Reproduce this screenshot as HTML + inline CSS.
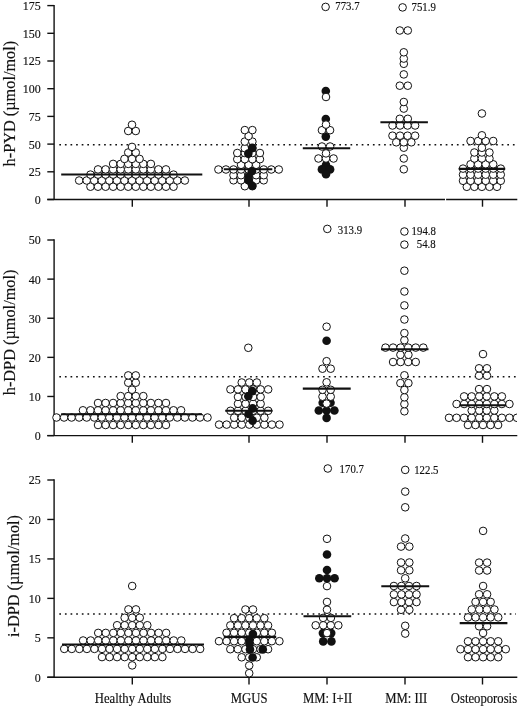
<!DOCTYPE html>
<html><head><meta charset="utf-8"><style>
html,body{margin:0;padding:0;background:#fff;}
body{width:520px;height:707px;overflow:hidden;}
svg{display:block;will-change:transform;}
text{font-family:"Liberation Serif",serif;fill:#111;stroke:#111;stroke-width:0.15px;}
.tk{font-size:12.0px;}
.ti{font-size:16.3px;}
.xl{font-size:12.7px;}
.lb{font-size:10.8px;}
</style></head><body>
<svg width="520" height="707" viewBox="0 0 520 707">
<rect width="520" height="707" fill="#fff"/>
<defs><clipPath id="cp"><rect x="0" y="0" width="517" height="707"/></clipPath></defs>
<line x1="54.1" y1="4.90" x2="54.1" y2="199.50" stroke="#111" stroke-width="1.4"/>
<line x1="47.3" y1="199.5" x2="517.3" y2="199.5" stroke="#111" stroke-width="1.4"/>
<line x1="47.3" y1="199.50" x2="54.1" y2="199.50" stroke="#111" stroke-width="1.4"/>
<text transform="translate(40.8,203.90) scale(1,1.1)" class="tk" text-anchor="end">0</text>
<line x1="47.3" y1="171.80" x2="54.1" y2="171.80" stroke="#111" stroke-width="1.4"/>
<text transform="translate(40.8,176.20) scale(1,1.1)" class="tk" text-anchor="end">25</text>
<line x1="47.3" y1="144.10" x2="54.1" y2="144.10" stroke="#111" stroke-width="1.4"/>
<text transform="translate(40.8,148.50) scale(1,1.1)" class="tk" text-anchor="end">50</text>
<line x1="47.3" y1="116.40" x2="54.1" y2="116.40" stroke="#111" stroke-width="1.4"/>
<text transform="translate(40.8,120.80) scale(1,1.1)" class="tk" text-anchor="end">75</text>
<line x1="47.3" y1="88.70" x2="54.1" y2="88.70" stroke="#111" stroke-width="1.4"/>
<text transform="translate(40.8,93.10) scale(1,1.1)" class="tk" text-anchor="end">100</text>
<line x1="47.3" y1="61.00" x2="54.1" y2="61.00" stroke="#111" stroke-width="1.4"/>
<text transform="translate(40.8,65.40) scale(1,1.1)" class="tk" text-anchor="end">125</text>
<line x1="47.3" y1="33.30" x2="54.1" y2="33.30" stroke="#111" stroke-width="1.4"/>
<text transform="translate(40.8,37.70) scale(1,1.1)" class="tk" text-anchor="end">150</text>
<line x1="47.3" y1="5.60" x2="54.1" y2="5.60" stroke="#111" stroke-width="1.4"/>
<text transform="translate(40.8,10.00) scale(1,1.1)" class="tk" text-anchor="end">175</text>
<line x1="132.3" y1="199.5" x2="132.3" y2="206.70" stroke="#111" stroke-width="1.4"/>
<line x1="249.0" y1="199.5" x2="249.0" y2="206.70" stroke="#111" stroke-width="1.4"/>
<line x1="327.0" y1="199.5" x2="327.0" y2="206.70" stroke="#111" stroke-width="1.4"/>
<line x1="405.0" y1="199.5" x2="405.0" y2="206.70" stroke="#111" stroke-width="1.4"/>
<line x1="482.5" y1="199.5" x2="482.5" y2="206.70" stroke="#111" stroke-width="1.4"/>
<line x1="59.3" y1="144.7" x2="516" y2="144.7" stroke="#111" stroke-width="1.5" stroke-dasharray="1.7 3.900"/>
<text class="ti" transform="translate(15.2,103.6) rotate(-90)" text-anchor="middle">h-PYD (µmol/mol)</text>
<line x1="54.1" y1="239.30" x2="54.1" y2="435.60" stroke="#111" stroke-width="1.4"/>
<line x1="47.3" y1="435.6" x2="517.3" y2="435.6" stroke="#111" stroke-width="1.4"/>
<line x1="47.3" y1="435.60" x2="54.1" y2="435.60" stroke="#111" stroke-width="1.4"/>
<text transform="translate(40.8,440.00) scale(1,1.1)" class="tk" text-anchor="end">0</text>
<line x1="47.3" y1="396.48" x2="54.1" y2="396.48" stroke="#111" stroke-width="1.4"/>
<text transform="translate(40.8,400.88) scale(1,1.1)" class="tk" text-anchor="end">10</text>
<line x1="47.3" y1="357.36" x2="54.1" y2="357.36" stroke="#111" stroke-width="1.4"/>
<text transform="translate(40.8,361.76) scale(1,1.1)" class="tk" text-anchor="end">20</text>
<line x1="47.3" y1="318.24" x2="54.1" y2="318.24" stroke="#111" stroke-width="1.4"/>
<text transform="translate(40.8,322.64) scale(1,1.1)" class="tk" text-anchor="end">30</text>
<line x1="47.3" y1="279.12" x2="54.1" y2="279.12" stroke="#111" stroke-width="1.4"/>
<text transform="translate(40.8,283.52) scale(1,1.1)" class="tk" text-anchor="end">40</text>
<line x1="47.3" y1="240.00" x2="54.1" y2="240.00" stroke="#111" stroke-width="1.4"/>
<text transform="translate(40.8,244.40) scale(1,1.1)" class="tk" text-anchor="end">50</text>
<line x1="132.3" y1="435.6" x2="132.3" y2="442.80" stroke="#111" stroke-width="1.4"/>
<line x1="249.0" y1="435.6" x2="249.0" y2="442.80" stroke="#111" stroke-width="1.4"/>
<line x1="327.0" y1="435.6" x2="327.0" y2="442.80" stroke="#111" stroke-width="1.4"/>
<line x1="405.0" y1="435.6" x2="405.0" y2="442.80" stroke="#111" stroke-width="1.4"/>
<line x1="482.5" y1="435.6" x2="482.5" y2="442.80" stroke="#111" stroke-width="1.4"/>
<line x1="59.3" y1="376.8" x2="516" y2="376.8" stroke="#111" stroke-width="1.5" stroke-dasharray="1.7 3.913"/>
<text class="ti" transform="translate(15.2,332.4) rotate(-90)" text-anchor="middle">h-DPD (µmol/mol)</text>
<line x1="54.1" y1="479.30" x2="54.1" y2="677.30" stroke="#111" stroke-width="1.4"/>
<line x1="47.3" y1="677.3" x2="517.3" y2="677.3" stroke="#111" stroke-width="1.4"/>
<line x1="47.3" y1="677.30" x2="54.1" y2="677.30" stroke="#111" stroke-width="1.4"/>
<text transform="translate(40.8,681.70) scale(1,1.1)" class="tk" text-anchor="end">0</text>
<line x1="47.3" y1="637.84" x2="54.1" y2="637.84" stroke="#111" stroke-width="1.4"/>
<text transform="translate(40.8,642.24) scale(1,1.1)" class="tk" text-anchor="end">5</text>
<line x1="47.3" y1="598.38" x2="54.1" y2="598.38" stroke="#111" stroke-width="1.4"/>
<text transform="translate(40.8,602.78) scale(1,1.1)" class="tk" text-anchor="end">10</text>
<line x1="47.3" y1="558.92" x2="54.1" y2="558.92" stroke="#111" stroke-width="1.4"/>
<text transform="translate(40.8,563.32) scale(1,1.1)" class="tk" text-anchor="end">15</text>
<line x1="47.3" y1="519.46" x2="54.1" y2="519.46" stroke="#111" stroke-width="1.4"/>
<text transform="translate(40.8,523.86) scale(1,1.1)" class="tk" text-anchor="end">20</text>
<line x1="47.3" y1="480.00" x2="54.1" y2="480.00" stroke="#111" stroke-width="1.4"/>
<text transform="translate(40.8,484.40) scale(1,1.1)" class="tk" text-anchor="end">25</text>
<line x1="132.3" y1="677.3" x2="132.3" y2="684.50" stroke="#111" stroke-width="1.4"/>
<line x1="249.0" y1="677.3" x2="249.0" y2="684.50" stroke="#111" stroke-width="1.4"/>
<line x1="327.0" y1="677.3" x2="327.0" y2="684.50" stroke="#111" stroke-width="1.4"/>
<line x1="405.0" y1="677.3" x2="405.0" y2="684.50" stroke="#111" stroke-width="1.4"/>
<line x1="482.5" y1="677.3" x2="482.5" y2="684.50" stroke="#111" stroke-width="1.4"/>
<line x1="59.3" y1="613.9" x2="516" y2="613.9" stroke="#111" stroke-width="1.5" stroke-dasharray="1.7 3.930"/>
<text class="ti" transform="translate(19.1,576.0) rotate(-90)" text-anchor="middle">i-DPD (µmol/mol)</text>
<rect x="445" y="197.5" width="1.1" height="4" fill="#fff"/>
<g clip-path="url(#cp)">
<circle cx="90.47" cy="186.70" r="3.8" fill="#fff" stroke="#111" stroke-width="1.0"/>
<circle cx="98.03" cy="186.70" r="3.8" fill="#fff" stroke="#111" stroke-width="1.0"/>
<circle cx="105.58" cy="186.70" r="3.8" fill="#fff" stroke="#111" stroke-width="1.0"/>
<circle cx="113.12" cy="186.70" r="3.8" fill="#fff" stroke="#111" stroke-width="1.0"/>
<circle cx="120.67" cy="186.70" r="3.8" fill="#fff" stroke="#111" stroke-width="1.0"/>
<circle cx="128.22" cy="186.70" r="3.8" fill="#fff" stroke="#111" stroke-width="1.0"/>
<circle cx="135.78" cy="186.70" r="3.8" fill="#fff" stroke="#111" stroke-width="1.0"/>
<circle cx="143.32" cy="186.70" r="3.8" fill="#fff" stroke="#111" stroke-width="1.0"/>
<circle cx="150.88" cy="186.70" r="3.8" fill="#fff" stroke="#111" stroke-width="1.0"/>
<circle cx="158.43" cy="186.70" r="3.8" fill="#fff" stroke="#111" stroke-width="1.0"/>
<circle cx="165.97" cy="186.70" r="3.8" fill="#fff" stroke="#111" stroke-width="1.0"/>
<circle cx="173.53" cy="186.70" r="3.8" fill="#fff" stroke="#111" stroke-width="1.0"/>
<circle cx="79.15" cy="180.50" r="3.8" fill="#fff" stroke="#111" stroke-width="1.0"/>
<circle cx="86.70" cy="180.50" r="3.8" fill="#fff" stroke="#111" stroke-width="1.0"/>
<circle cx="94.25" cy="180.50" r="3.8" fill="#fff" stroke="#111" stroke-width="1.0"/>
<circle cx="101.80" cy="180.50" r="3.8" fill="#fff" stroke="#111" stroke-width="1.0"/>
<circle cx="109.35" cy="180.50" r="3.8" fill="#fff" stroke="#111" stroke-width="1.0"/>
<circle cx="116.90" cy="180.50" r="3.8" fill="#fff" stroke="#111" stroke-width="1.0"/>
<circle cx="124.45" cy="180.50" r="3.8" fill="#fff" stroke="#111" stroke-width="1.0"/>
<circle cx="132.00" cy="180.50" r="3.8" fill="#fff" stroke="#111" stroke-width="1.0"/>
<circle cx="139.55" cy="180.50" r="3.8" fill="#fff" stroke="#111" stroke-width="1.0"/>
<circle cx="147.10" cy="180.50" r="3.8" fill="#fff" stroke="#111" stroke-width="1.0"/>
<circle cx="154.65" cy="180.50" r="3.8" fill="#fff" stroke="#111" stroke-width="1.0"/>
<circle cx="162.20" cy="180.50" r="3.8" fill="#fff" stroke="#111" stroke-width="1.0"/>
<circle cx="169.75" cy="180.50" r="3.8" fill="#fff" stroke="#111" stroke-width="1.0"/>
<circle cx="177.30" cy="180.50" r="3.8" fill="#fff" stroke="#111" stroke-width="1.0"/>
<circle cx="184.85" cy="180.50" r="3.8" fill="#fff" stroke="#111" stroke-width="1.0"/>
<circle cx="90.47" cy="174.60" r="3.8" fill="#fff" stroke="#111" stroke-width="1.0"/>
<circle cx="98.03" cy="174.60" r="3.8" fill="#fff" stroke="#111" stroke-width="1.0"/>
<circle cx="105.58" cy="174.60" r="3.8" fill="#fff" stroke="#111" stroke-width="1.0"/>
<circle cx="113.12" cy="174.60" r="3.8" fill="#fff" stroke="#111" stroke-width="1.0"/>
<circle cx="120.67" cy="174.60" r="3.8" fill="#fff" stroke="#111" stroke-width="1.0"/>
<circle cx="128.22" cy="174.60" r="3.8" fill="#fff" stroke="#111" stroke-width="1.0"/>
<circle cx="135.78" cy="174.60" r="3.8" fill="#fff" stroke="#111" stroke-width="1.0"/>
<circle cx="143.32" cy="174.60" r="3.8" fill="#fff" stroke="#111" stroke-width="1.0"/>
<circle cx="150.88" cy="174.60" r="3.8" fill="#fff" stroke="#111" stroke-width="1.0"/>
<circle cx="158.43" cy="174.60" r="3.8" fill="#fff" stroke="#111" stroke-width="1.0"/>
<circle cx="165.97" cy="174.60" r="3.8" fill="#fff" stroke="#111" stroke-width="1.0"/>
<circle cx="173.53" cy="174.60" r="3.8" fill="#fff" stroke="#111" stroke-width="1.0"/>
<circle cx="98.03" cy="169.40" r="3.8" fill="#fff" stroke="#111" stroke-width="1.0"/>
<circle cx="105.58" cy="169.40" r="3.8" fill="#fff" stroke="#111" stroke-width="1.0"/>
<circle cx="113.12" cy="169.40" r="3.8" fill="#fff" stroke="#111" stroke-width="1.0"/>
<circle cx="120.67" cy="169.40" r="3.8" fill="#fff" stroke="#111" stroke-width="1.0"/>
<circle cx="128.22" cy="169.40" r="3.8" fill="#fff" stroke="#111" stroke-width="1.0"/>
<circle cx="135.78" cy="169.40" r="3.8" fill="#fff" stroke="#111" stroke-width="1.0"/>
<circle cx="143.32" cy="169.40" r="3.8" fill="#fff" stroke="#111" stroke-width="1.0"/>
<circle cx="150.88" cy="169.40" r="3.8" fill="#fff" stroke="#111" stroke-width="1.0"/>
<circle cx="158.43" cy="169.40" r="3.8" fill="#fff" stroke="#111" stroke-width="1.0"/>
<circle cx="165.97" cy="169.40" r="3.8" fill="#fff" stroke="#111" stroke-width="1.0"/>
<circle cx="113.12" cy="163.90" r="3.8" fill="#fff" stroke="#111" stroke-width="1.0"/>
<circle cx="120.67" cy="163.90" r="3.8" fill="#fff" stroke="#111" stroke-width="1.0"/>
<circle cx="128.22" cy="163.90" r="3.8" fill="#fff" stroke="#111" stroke-width="1.0"/>
<circle cx="135.78" cy="163.90" r="3.8" fill="#fff" stroke="#111" stroke-width="1.0"/>
<circle cx="143.32" cy="163.90" r="3.8" fill="#fff" stroke="#111" stroke-width="1.0"/>
<circle cx="150.88" cy="163.90" r="3.8" fill="#fff" stroke="#111" stroke-width="1.0"/>
<circle cx="124.45" cy="158.90" r="3.8" fill="#fff" stroke="#111" stroke-width="1.0"/>
<circle cx="132.00" cy="158.90" r="3.8" fill="#fff" stroke="#111" stroke-width="1.0"/>
<circle cx="139.55" cy="158.90" r="3.8" fill="#fff" stroke="#111" stroke-width="1.0"/>
<circle cx="128.22" cy="152.50" r="3.8" fill="#fff" stroke="#111" stroke-width="1.0"/>
<circle cx="135.78" cy="152.50" r="3.8" fill="#fff" stroke="#111" stroke-width="1.0"/>
<circle cx="132.00" cy="146.90" r="3.8" fill="#fff" stroke="#111" stroke-width="1.0"/>
<circle cx="128.22" cy="131.00" r="3.8" fill="#fff" stroke="#111" stroke-width="1.0"/>
<circle cx="135.78" cy="131.00" r="3.8" fill="#fff" stroke="#111" stroke-width="1.0"/>
<circle cx="132.00" cy="124.75" r="3.8" fill="#fff" stroke="#111" stroke-width="1.0"/>
<line x1="61.2" y1="174.5" x2="202.3" y2="174.5" stroke="#111" stroke-width="2.1"/>
<circle cx="244.82" cy="186.20" r="3.8" fill="#fff" stroke="#111" stroke-width="1.0"/>
<circle cx="252.38" cy="186.20" r="3.8" fill="#fff" stroke="#111" stroke-width="1.0"/>
<circle cx="233.50" cy="180.30" r="3.8" fill="#fff" stroke="#111" stroke-width="1.0"/>
<circle cx="241.05" cy="180.30" r="3.8" fill="#fff" stroke="#111" stroke-width="1.0"/>
<circle cx="248.60" cy="180.30" r="3.8" fill="#fff" stroke="#111" stroke-width="1.0"/>
<circle cx="256.15" cy="180.30" r="3.8" fill="#fff" stroke="#111" stroke-width="1.0"/>
<circle cx="263.70" cy="180.30" r="3.8" fill="#fff" stroke="#111" stroke-width="1.0"/>
<circle cx="233.50" cy="175.20" r="3.8" fill="#fff" stroke="#111" stroke-width="1.0"/>
<circle cx="241.05" cy="175.20" r="3.8" fill="#fff" stroke="#111" stroke-width="1.0"/>
<circle cx="248.60" cy="175.20" r="3.8" fill="#fff" stroke="#111" stroke-width="1.0"/>
<circle cx="256.15" cy="175.20" r="3.8" fill="#fff" stroke="#111" stroke-width="1.0"/>
<circle cx="263.70" cy="175.20" r="3.8" fill="#fff" stroke="#111" stroke-width="1.0"/>
<circle cx="218.40" cy="169.50" r="3.8" fill="#fff" stroke="#111" stroke-width="1.0"/>
<circle cx="225.95" cy="169.50" r="3.8" fill="#fff" stroke="#111" stroke-width="1.0"/>
<circle cx="233.50" cy="169.50" r="3.8" fill="#fff" stroke="#111" stroke-width="1.0"/>
<circle cx="241.05" cy="169.50" r="3.8" fill="#fff" stroke="#111" stroke-width="1.0"/>
<circle cx="248.60" cy="169.50" r="3.8" fill="#fff" stroke="#111" stroke-width="1.0"/>
<circle cx="256.15" cy="169.50" r="3.8" fill="#fff" stroke="#111" stroke-width="1.0"/>
<circle cx="263.70" cy="169.50" r="3.8" fill="#fff" stroke="#111" stroke-width="1.0"/>
<circle cx="271.25" cy="169.50" r="3.8" fill="#fff" stroke="#111" stroke-width="1.0"/>
<circle cx="278.80" cy="169.50" r="3.8" fill="#fff" stroke="#111" stroke-width="1.0"/>
<circle cx="241.05" cy="164.80" r="3.8" fill="#fff" stroke="#111" stroke-width="1.0"/>
<circle cx="248.60" cy="164.80" r="3.8" fill="#fff" stroke="#111" stroke-width="1.0"/>
<circle cx="256.15" cy="164.80" r="3.8" fill="#fff" stroke="#111" stroke-width="1.0"/>
<circle cx="237.28" cy="159.20" r="3.8" fill="#fff" stroke="#111" stroke-width="1.0"/>
<circle cx="244.82" cy="159.20" r="3.8" fill="#fff" stroke="#111" stroke-width="1.0"/>
<circle cx="252.38" cy="159.20" r="3.8" fill="#fff" stroke="#111" stroke-width="1.0"/>
<circle cx="259.93" cy="159.20" r="3.8" fill="#fff" stroke="#111" stroke-width="1.0"/>
<circle cx="237.28" cy="153.00" r="3.8" fill="#fff" stroke="#111" stroke-width="1.0"/>
<circle cx="244.82" cy="153.00" r="3.8" fill="#fff" stroke="#111" stroke-width="1.0"/>
<circle cx="252.38" cy="153.00" r="3.8" fill="#fff" stroke="#111" stroke-width="1.0"/>
<circle cx="259.93" cy="153.00" r="3.8" fill="#fff" stroke="#111" stroke-width="1.0"/>
<circle cx="244.82" cy="148.20" r="3.8" fill="#fff" stroke="#111" stroke-width="1.0"/>
<circle cx="252.38" cy="148.20" r="3.8" fill="#fff" stroke="#111" stroke-width="1.0"/>
<circle cx="244.82" cy="141.60" r="3.8" fill="#fff" stroke="#111" stroke-width="1.0"/>
<circle cx="252.38" cy="141.60" r="3.8" fill="#fff" stroke="#111" stroke-width="1.0"/>
<circle cx="248.60" cy="136.00" r="3.8" fill="#fff" stroke="#111" stroke-width="1.0"/>
<circle cx="244.82" cy="130.10" r="3.8" fill="#fff" stroke="#111" stroke-width="1.0"/>
<circle cx="252.38" cy="130.10" r="3.8" fill="#fff" stroke="#111" stroke-width="1.0"/>
<line x1="223.8" y1="169.3" x2="272.3" y2="169.3" stroke="#111" stroke-width="2.1"/>
<circle cx="252.20" cy="147.90" r="4.30" fill="#111"/>
<circle cx="248.30" cy="153.60" r="4.30" fill="#111"/>
<circle cx="251.90" cy="171.20" r="4.30" fill="#111"/>
<circle cx="248.60" cy="176.80" r="4.30" fill="#111"/>
<circle cx="248.60" cy="180.20" r="4.30" fill="#111"/>
<circle cx="252.20" cy="185.80" r="4.30" fill="#111"/>
<circle cx="325.80" cy="91.00" r="4.30" fill="#111"/>
<circle cx="325.80" cy="119.00" r="4.30" fill="#111"/>
<circle cx="325.80" cy="136.60" r="4.30" fill="#111"/>
<circle cx="326.00" cy="165.10" r="4.30" fill="#111"/>
<circle cx="321.90" cy="169.40" r="4.30" fill="#111"/>
<circle cx="330.10" cy="169.40" r="4.30" fill="#111"/>
<circle cx="326.00" cy="174.20" r="4.30" fill="#111"/>
<circle cx="325.60" cy="6.90" r="3.8" fill="#fff" stroke="#111" stroke-width="1.0"/>
<circle cx="318.45" cy="158.50" r="3.8" fill="#fff" stroke="#111" stroke-width="1.0"/>
<circle cx="326.00" cy="158.50" r="3.8" fill="#fff" stroke="#111" stroke-width="1.0"/>
<circle cx="333.55" cy="158.50" r="3.8" fill="#fff" stroke="#111" stroke-width="1.0"/>
<circle cx="326.00" cy="153.40" r="3.8" fill="#fff" stroke="#111" stroke-width="1.0"/>
<circle cx="321.95" cy="146.50" r="3.8" fill="#fff" stroke="#111" stroke-width="1.0"/>
<circle cx="330.05" cy="146.50" r="3.8" fill="#fff" stroke="#111" stroke-width="1.0"/>
<circle cx="321.95" cy="130.20" r="3.8" fill="#fff" stroke="#111" stroke-width="1.0"/>
<circle cx="330.05" cy="130.20" r="3.8" fill="#fff" stroke="#111" stroke-width="1.0"/>
<circle cx="326.00" cy="124.60" r="3.8" fill="#fff" stroke="#111" stroke-width="1.0"/>
<circle cx="326.00" cy="97.00" r="3.8" fill="#fff" stroke="#111" stroke-width="1.0"/>
<line x1="302.8" y1="148.3" x2="350.2" y2="148.3" stroke="#111" stroke-width="2.1"/>
<circle cx="402.60" cy="7.40" r="3.8" fill="#fff" stroke="#111" stroke-width="1.0"/>
<circle cx="403.80" cy="169.30" r="3.8" fill="#fff" stroke="#111" stroke-width="1.0"/>
<circle cx="403.80" cy="158.50" r="3.8" fill="#fff" stroke="#111" stroke-width="1.0"/>
<circle cx="403.80" cy="147.70" r="3.8" fill="#fff" stroke="#111" stroke-width="1.0"/>
<circle cx="396.25" cy="142.30" r="3.8" fill="#fff" stroke="#111" stroke-width="1.0"/>
<circle cx="403.80" cy="142.30" r="3.8" fill="#fff" stroke="#111" stroke-width="1.0"/>
<circle cx="411.35" cy="142.30" r="3.8" fill="#fff" stroke="#111" stroke-width="1.0"/>
<circle cx="392.48" cy="135.70" r="3.8" fill="#fff" stroke="#111" stroke-width="1.0"/>
<circle cx="400.03" cy="135.70" r="3.8" fill="#fff" stroke="#111" stroke-width="1.0"/>
<circle cx="407.57" cy="135.70" r="3.8" fill="#fff" stroke="#111" stroke-width="1.0"/>
<circle cx="415.12" cy="135.70" r="3.8" fill="#fff" stroke="#111" stroke-width="1.0"/>
<circle cx="392.48" cy="125.50" r="3.8" fill="#fff" stroke="#111" stroke-width="1.0"/>
<circle cx="400.03" cy="125.50" r="3.8" fill="#fff" stroke="#111" stroke-width="1.0"/>
<circle cx="407.57" cy="125.50" r="3.8" fill="#fff" stroke="#111" stroke-width="1.0"/>
<circle cx="415.12" cy="125.50" r="3.8" fill="#fff" stroke="#111" stroke-width="1.0"/>
<circle cx="399.80" cy="118.80" r="3.8" fill="#fff" stroke="#111" stroke-width="1.0"/>
<circle cx="407.80" cy="118.80" r="3.8" fill="#fff" stroke="#111" stroke-width="1.0"/>
<circle cx="403.80" cy="108.60" r="3.8" fill="#fff" stroke="#111" stroke-width="1.0"/>
<circle cx="403.80" cy="102.00" r="3.8" fill="#fff" stroke="#111" stroke-width="1.0"/>
<circle cx="399.80" cy="85.70" r="3.8" fill="#fff" stroke="#111" stroke-width="1.0"/>
<circle cx="407.80" cy="85.70" r="3.8" fill="#fff" stroke="#111" stroke-width="1.0"/>
<circle cx="403.80" cy="74.40" r="3.8" fill="#fff" stroke="#111" stroke-width="1.0"/>
<circle cx="403.80" cy="63.80" r="3.8" fill="#fff" stroke="#111" stroke-width="1.0"/>
<circle cx="403.80" cy="58.60" r="3.8" fill="#fff" stroke="#111" stroke-width="1.0"/>
<circle cx="403.80" cy="52.30" r="3.8" fill="#fff" stroke="#111" stroke-width="1.0"/>
<circle cx="399.80" cy="30.50" r="3.8" fill="#fff" stroke="#111" stroke-width="1.0"/>
<circle cx="407.80" cy="30.50" r="3.8" fill="#fff" stroke="#111" stroke-width="1.0"/>
<line x1="380.4" y1="122.2" x2="427.9" y2="122.2" stroke="#111" stroke-width="2.1"/>
<circle cx="466.80" cy="186.80" r="3.8" fill="#fff" stroke="#111" stroke-width="1.0"/>
<circle cx="474.35" cy="186.80" r="3.8" fill="#fff" stroke="#111" stroke-width="1.0"/>
<circle cx="481.90" cy="186.80" r="3.8" fill="#fff" stroke="#111" stroke-width="1.0"/>
<circle cx="489.45" cy="186.80" r="3.8" fill="#fff" stroke="#111" stroke-width="1.0"/>
<circle cx="497.00" cy="186.80" r="3.8" fill="#fff" stroke="#111" stroke-width="1.0"/>
<circle cx="463.02" cy="180.80" r="3.8" fill="#fff" stroke="#111" stroke-width="1.0"/>
<circle cx="470.57" cy="180.80" r="3.8" fill="#fff" stroke="#111" stroke-width="1.0"/>
<circle cx="478.12" cy="180.80" r="3.8" fill="#fff" stroke="#111" stroke-width="1.0"/>
<circle cx="485.67" cy="180.80" r="3.8" fill="#fff" stroke="#111" stroke-width="1.0"/>
<circle cx="493.22" cy="180.80" r="3.8" fill="#fff" stroke="#111" stroke-width="1.0"/>
<circle cx="500.77" cy="180.80" r="3.8" fill="#fff" stroke="#111" stroke-width="1.0"/>
<circle cx="463.02" cy="174.70" r="3.8" fill="#fff" stroke="#111" stroke-width="1.0"/>
<circle cx="470.57" cy="174.70" r="3.8" fill="#fff" stroke="#111" stroke-width="1.0"/>
<circle cx="478.12" cy="174.70" r="3.8" fill="#fff" stroke="#111" stroke-width="1.0"/>
<circle cx="485.67" cy="174.70" r="3.8" fill="#fff" stroke="#111" stroke-width="1.0"/>
<circle cx="493.22" cy="174.70" r="3.8" fill="#fff" stroke="#111" stroke-width="1.0"/>
<circle cx="500.77" cy="174.70" r="3.8" fill="#fff" stroke="#111" stroke-width="1.0"/>
<circle cx="463.02" cy="168.60" r="3.8" fill="#fff" stroke="#111" stroke-width="1.0"/>
<circle cx="470.57" cy="168.60" r="3.8" fill="#fff" stroke="#111" stroke-width="1.0"/>
<circle cx="478.12" cy="168.60" r="3.8" fill="#fff" stroke="#111" stroke-width="1.0"/>
<circle cx="485.67" cy="168.60" r="3.8" fill="#fff" stroke="#111" stroke-width="1.0"/>
<circle cx="493.22" cy="168.60" r="3.8" fill="#fff" stroke="#111" stroke-width="1.0"/>
<circle cx="500.77" cy="168.60" r="3.8" fill="#fff" stroke="#111" stroke-width="1.0"/>
<circle cx="470.57" cy="164.30" r="3.8" fill="#fff" stroke="#111" stroke-width="1.0"/>
<circle cx="478.12" cy="164.30" r="3.8" fill="#fff" stroke="#111" stroke-width="1.0"/>
<circle cx="485.67" cy="164.30" r="3.8" fill="#fff" stroke="#111" stroke-width="1.0"/>
<circle cx="493.22" cy="164.30" r="3.8" fill="#fff" stroke="#111" stroke-width="1.0"/>
<circle cx="474.35" cy="158.50" r="3.8" fill="#fff" stroke="#111" stroke-width="1.0"/>
<circle cx="481.90" cy="158.50" r="3.8" fill="#fff" stroke="#111" stroke-width="1.0"/>
<circle cx="489.45" cy="158.50" r="3.8" fill="#fff" stroke="#111" stroke-width="1.0"/>
<circle cx="474.35" cy="152.50" r="3.8" fill="#fff" stroke="#111" stroke-width="1.0"/>
<circle cx="481.90" cy="152.50" r="3.8" fill="#fff" stroke="#111" stroke-width="1.0"/>
<circle cx="489.45" cy="152.50" r="3.8" fill="#fff" stroke="#111" stroke-width="1.0"/>
<circle cx="481.90" cy="147.80" r="3.8" fill="#fff" stroke="#111" stroke-width="1.0"/>
<circle cx="470.57" cy="141.00" r="3.8" fill="#fff" stroke="#111" stroke-width="1.0"/>
<circle cx="478.12" cy="141.00" r="3.8" fill="#fff" stroke="#111" stroke-width="1.0"/>
<circle cx="485.67" cy="141.00" r="3.8" fill="#fff" stroke="#111" stroke-width="1.0"/>
<circle cx="493.22" cy="141.00" r="3.8" fill="#fff" stroke="#111" stroke-width="1.0"/>
<circle cx="481.90" cy="135.30" r="3.8" fill="#fff" stroke="#111" stroke-width="1.0"/>
<circle cx="481.90" cy="113.50" r="3.8" fill="#fff" stroke="#111" stroke-width="1.0"/>
<line x1="458.7" y1="168.9" x2="505.2" y2="168.9" stroke="#111" stroke-width="2.1"/>
<text transform="translate(335.3,10.1) scale(1,1.1)" class="lb">773.7</text>
<text transform="translate(411.5,10.6) scale(1,1.1)" class="lb">751.9</text>
<circle cx="98.03" cy="425.00" r="3.8" fill="#fff" stroke="#111" stroke-width="1.0"/>
<circle cx="105.58" cy="425.00" r="3.8" fill="#fff" stroke="#111" stroke-width="1.0"/>
<circle cx="113.12" cy="425.00" r="3.8" fill="#fff" stroke="#111" stroke-width="1.0"/>
<circle cx="120.67" cy="425.00" r="3.8" fill="#fff" stroke="#111" stroke-width="1.0"/>
<circle cx="128.22" cy="425.00" r="3.8" fill="#fff" stroke="#111" stroke-width="1.0"/>
<circle cx="135.78" cy="425.00" r="3.8" fill="#fff" stroke="#111" stroke-width="1.0"/>
<circle cx="143.32" cy="425.00" r="3.8" fill="#fff" stroke="#111" stroke-width="1.0"/>
<circle cx="150.88" cy="425.00" r="3.8" fill="#fff" stroke="#111" stroke-width="1.0"/>
<circle cx="158.43" cy="425.00" r="3.8" fill="#fff" stroke="#111" stroke-width="1.0"/>
<circle cx="165.97" cy="425.00" r="3.8" fill="#fff" stroke="#111" stroke-width="1.0"/>
<circle cx="56.50" cy="417.50" r="3.8" fill="#fff" stroke="#111" stroke-width="1.0"/>
<circle cx="64.05" cy="417.50" r="3.8" fill="#fff" stroke="#111" stroke-width="1.0"/>
<circle cx="71.60" cy="417.50" r="3.8" fill="#fff" stroke="#111" stroke-width="1.0"/>
<circle cx="79.15" cy="417.50" r="3.8" fill="#fff" stroke="#111" stroke-width="1.0"/>
<circle cx="86.70" cy="417.50" r="3.8" fill="#fff" stroke="#111" stroke-width="1.0"/>
<circle cx="94.25" cy="417.50" r="3.8" fill="#fff" stroke="#111" stroke-width="1.0"/>
<circle cx="101.80" cy="417.50" r="3.8" fill="#fff" stroke="#111" stroke-width="1.0"/>
<circle cx="109.35" cy="417.50" r="3.8" fill="#fff" stroke="#111" stroke-width="1.0"/>
<circle cx="116.90" cy="417.50" r="3.8" fill="#fff" stroke="#111" stroke-width="1.0"/>
<circle cx="124.45" cy="417.50" r="3.8" fill="#fff" stroke="#111" stroke-width="1.0"/>
<circle cx="132.00" cy="417.50" r="3.8" fill="#fff" stroke="#111" stroke-width="1.0"/>
<circle cx="139.55" cy="417.50" r="3.8" fill="#fff" stroke="#111" stroke-width="1.0"/>
<circle cx="147.10" cy="417.50" r="3.8" fill="#fff" stroke="#111" stroke-width="1.0"/>
<circle cx="154.65" cy="417.50" r="3.8" fill="#fff" stroke="#111" stroke-width="1.0"/>
<circle cx="162.20" cy="417.50" r="3.8" fill="#fff" stroke="#111" stroke-width="1.0"/>
<circle cx="169.75" cy="417.50" r="3.8" fill="#fff" stroke="#111" stroke-width="1.0"/>
<circle cx="177.30" cy="417.50" r="3.8" fill="#fff" stroke="#111" stroke-width="1.0"/>
<circle cx="184.85" cy="417.50" r="3.8" fill="#fff" stroke="#111" stroke-width="1.0"/>
<circle cx="192.40" cy="417.50" r="3.8" fill="#fff" stroke="#111" stroke-width="1.0"/>
<circle cx="199.95" cy="417.50" r="3.8" fill="#fff" stroke="#111" stroke-width="1.0"/>
<circle cx="207.50" cy="417.50" r="3.8" fill="#fff" stroke="#111" stroke-width="1.0"/>
<circle cx="82.93" cy="410.30" r="3.8" fill="#fff" stroke="#111" stroke-width="1.0"/>
<circle cx="90.47" cy="410.30" r="3.8" fill="#fff" stroke="#111" stroke-width="1.0"/>
<circle cx="98.03" cy="410.30" r="3.8" fill="#fff" stroke="#111" stroke-width="1.0"/>
<circle cx="105.58" cy="410.30" r="3.8" fill="#fff" stroke="#111" stroke-width="1.0"/>
<circle cx="113.12" cy="410.30" r="3.8" fill="#fff" stroke="#111" stroke-width="1.0"/>
<circle cx="120.67" cy="410.30" r="3.8" fill="#fff" stroke="#111" stroke-width="1.0"/>
<circle cx="128.22" cy="410.30" r="3.8" fill="#fff" stroke="#111" stroke-width="1.0"/>
<circle cx="135.78" cy="410.30" r="3.8" fill="#fff" stroke="#111" stroke-width="1.0"/>
<circle cx="143.32" cy="410.30" r="3.8" fill="#fff" stroke="#111" stroke-width="1.0"/>
<circle cx="150.88" cy="410.30" r="3.8" fill="#fff" stroke="#111" stroke-width="1.0"/>
<circle cx="158.43" cy="410.30" r="3.8" fill="#fff" stroke="#111" stroke-width="1.0"/>
<circle cx="165.97" cy="410.30" r="3.8" fill="#fff" stroke="#111" stroke-width="1.0"/>
<circle cx="173.53" cy="410.30" r="3.8" fill="#fff" stroke="#111" stroke-width="1.0"/>
<circle cx="181.07" cy="410.30" r="3.8" fill="#fff" stroke="#111" stroke-width="1.0"/>
<circle cx="98.03" cy="403.00" r="3.8" fill="#fff" stroke="#111" stroke-width="1.0"/>
<circle cx="105.58" cy="403.00" r="3.8" fill="#fff" stroke="#111" stroke-width="1.0"/>
<circle cx="113.12" cy="403.00" r="3.8" fill="#fff" stroke="#111" stroke-width="1.0"/>
<circle cx="120.67" cy="403.00" r="3.8" fill="#fff" stroke="#111" stroke-width="1.0"/>
<circle cx="128.22" cy="403.00" r="3.8" fill="#fff" stroke="#111" stroke-width="1.0"/>
<circle cx="135.78" cy="403.00" r="3.8" fill="#fff" stroke="#111" stroke-width="1.0"/>
<circle cx="143.32" cy="403.00" r="3.8" fill="#fff" stroke="#111" stroke-width="1.0"/>
<circle cx="150.88" cy="403.00" r="3.8" fill="#fff" stroke="#111" stroke-width="1.0"/>
<circle cx="158.43" cy="403.00" r="3.8" fill="#fff" stroke="#111" stroke-width="1.0"/>
<circle cx="165.97" cy="403.00" r="3.8" fill="#fff" stroke="#111" stroke-width="1.0"/>
<circle cx="120.67" cy="396.10" r="3.8" fill="#fff" stroke="#111" stroke-width="1.0"/>
<circle cx="128.22" cy="396.10" r="3.8" fill="#fff" stroke="#111" stroke-width="1.0"/>
<circle cx="135.78" cy="396.10" r="3.8" fill="#fff" stroke="#111" stroke-width="1.0"/>
<circle cx="143.32" cy="396.10" r="3.8" fill="#fff" stroke="#111" stroke-width="1.0"/>
<circle cx="132.00" cy="389.70" r="3.8" fill="#fff" stroke="#111" stroke-width="1.0"/>
<circle cx="128.22" cy="382.70" r="3.8" fill="#fff" stroke="#111" stroke-width="1.0"/>
<circle cx="135.78" cy="382.70" r="3.8" fill="#fff" stroke="#111" stroke-width="1.0"/>
<circle cx="128.22" cy="375.40" r="3.8" fill="#fff" stroke="#111" stroke-width="1.0"/>
<circle cx="135.78" cy="375.40" r="3.8" fill="#fff" stroke="#111" stroke-width="1.0"/>
<line x1="61.1" y1="414.2" x2="202.0" y2="414.2" stroke="#111" stroke-width="2.1"/>
<circle cx="248.30" cy="347.80" r="3.8" fill="#fff" stroke="#111" stroke-width="1.0"/>
<circle cx="219.10" cy="424.60" r="3.8" fill="#fff" stroke="#111" stroke-width="1.0"/>
<circle cx="226.65" cy="424.60" r="3.8" fill="#fff" stroke="#111" stroke-width="1.0"/>
<circle cx="234.20" cy="424.60" r="3.8" fill="#fff" stroke="#111" stroke-width="1.0"/>
<circle cx="241.75" cy="424.60" r="3.8" fill="#fff" stroke="#111" stroke-width="1.0"/>
<circle cx="249.30" cy="424.60" r="3.8" fill="#fff" stroke="#111" stroke-width="1.0"/>
<circle cx="256.85" cy="424.60" r="3.8" fill="#fff" stroke="#111" stroke-width="1.0"/>
<circle cx="264.40" cy="424.60" r="3.8" fill="#fff" stroke="#111" stroke-width="1.0"/>
<circle cx="271.95" cy="424.60" r="3.8" fill="#fff" stroke="#111" stroke-width="1.0"/>
<circle cx="279.50" cy="424.60" r="3.8" fill="#fff" stroke="#111" stroke-width="1.0"/>
<circle cx="234.20" cy="417.70" r="3.8" fill="#fff" stroke="#111" stroke-width="1.0"/>
<circle cx="241.75" cy="417.70" r="3.8" fill="#fff" stroke="#111" stroke-width="1.0"/>
<circle cx="249.30" cy="417.70" r="3.8" fill="#fff" stroke="#111" stroke-width="1.0"/>
<circle cx="256.85" cy="417.70" r="3.8" fill="#fff" stroke="#111" stroke-width="1.0"/>
<circle cx="264.40" cy="417.70" r="3.8" fill="#fff" stroke="#111" stroke-width="1.0"/>
<circle cx="230.43" cy="410.80" r="3.8" fill="#fff" stroke="#111" stroke-width="1.0"/>
<circle cx="237.98" cy="410.80" r="3.8" fill="#fff" stroke="#111" stroke-width="1.0"/>
<circle cx="245.53" cy="410.80" r="3.8" fill="#fff" stroke="#111" stroke-width="1.0"/>
<circle cx="253.08" cy="410.80" r="3.8" fill="#fff" stroke="#111" stroke-width="1.0"/>
<circle cx="260.62" cy="410.80" r="3.8" fill="#fff" stroke="#111" stroke-width="1.0"/>
<circle cx="268.18" cy="410.80" r="3.8" fill="#fff" stroke="#111" stroke-width="1.0"/>
<circle cx="237.98" cy="403.80" r="3.8" fill="#fff" stroke="#111" stroke-width="1.0"/>
<circle cx="245.53" cy="403.80" r="3.8" fill="#fff" stroke="#111" stroke-width="1.0"/>
<circle cx="253.08" cy="403.80" r="3.8" fill="#fff" stroke="#111" stroke-width="1.0"/>
<circle cx="260.62" cy="403.80" r="3.8" fill="#fff" stroke="#111" stroke-width="1.0"/>
<circle cx="237.98" cy="396.90" r="3.8" fill="#fff" stroke="#111" stroke-width="1.0"/>
<circle cx="245.53" cy="396.90" r="3.8" fill="#fff" stroke="#111" stroke-width="1.0"/>
<circle cx="253.08" cy="396.90" r="3.8" fill="#fff" stroke="#111" stroke-width="1.0"/>
<circle cx="260.62" cy="396.90" r="3.8" fill="#fff" stroke="#111" stroke-width="1.0"/>
<circle cx="230.43" cy="389.40" r="3.8" fill="#fff" stroke="#111" stroke-width="1.0"/>
<circle cx="237.98" cy="389.40" r="3.8" fill="#fff" stroke="#111" stroke-width="1.0"/>
<circle cx="245.53" cy="389.40" r="3.8" fill="#fff" stroke="#111" stroke-width="1.0"/>
<circle cx="253.08" cy="389.40" r="3.8" fill="#fff" stroke="#111" stroke-width="1.0"/>
<circle cx="260.62" cy="389.40" r="3.8" fill="#fff" stroke="#111" stroke-width="1.0"/>
<circle cx="268.18" cy="389.40" r="3.8" fill="#fff" stroke="#111" stroke-width="1.0"/>
<circle cx="241.75" cy="382.50" r="3.8" fill="#fff" stroke="#111" stroke-width="1.0"/>
<circle cx="249.30" cy="382.50" r="3.8" fill="#fff" stroke="#111" stroke-width="1.0"/>
<circle cx="256.85" cy="382.50" r="3.8" fill="#fff" stroke="#111" stroke-width="1.0"/>
<line x1="225.2" y1="410.8" x2="272.5" y2="410.8" stroke="#111" stroke-width="2.1"/>
<circle cx="252.30" cy="391.10" r="4.30" fill="#111"/>
<circle cx="248.30" cy="396.30" r="4.30" fill="#111"/>
<circle cx="252.60" cy="408.40" r="4.30" fill="#111"/>
<circle cx="248.60" cy="414.00" r="4.30" fill="#111"/>
<circle cx="252.60" cy="420.60" r="4.30" fill="#111"/>
<circle cx="326.60" cy="340.70" r="4.30" fill="#111"/>
<circle cx="322.70" cy="402.70" r="4.30" fill="#111"/>
<circle cx="330.50" cy="402.70" r="4.30" fill="#111"/>
<circle cx="318.80" cy="410.50" r="4.30" fill="#111"/>
<circle cx="326.60" cy="410.50" r="4.30" fill="#111"/>
<circle cx="334.40" cy="410.50" r="4.30" fill="#111"/>
<circle cx="326.60" cy="417.90" r="4.30" fill="#111"/>
<circle cx="327.30" cy="228.90" r="3.8" fill="#fff" stroke="#111" stroke-width="1.0"/>
<circle cx="326.60" cy="403.60" r="3.8" fill="#fff" stroke="#111" stroke-width="1.0"/>
<circle cx="322.50" cy="396.70" r="3.8" fill="#fff" stroke="#111" stroke-width="1.0"/>
<circle cx="330.70" cy="396.70" r="3.8" fill="#fff" stroke="#111" stroke-width="1.0"/>
<circle cx="322.50" cy="389.80" r="3.8" fill="#fff" stroke="#111" stroke-width="1.0"/>
<circle cx="330.70" cy="389.80" r="3.8" fill="#fff" stroke="#111" stroke-width="1.0"/>
<circle cx="326.60" cy="382.30" r="3.8" fill="#fff" stroke="#111" stroke-width="1.0"/>
<circle cx="322.50" cy="368.70" r="3.8" fill="#fff" stroke="#111" stroke-width="1.0"/>
<circle cx="330.70" cy="368.70" r="3.8" fill="#fff" stroke="#111" stroke-width="1.0"/>
<circle cx="326.60" cy="361.20" r="3.8" fill="#fff" stroke="#111" stroke-width="1.0"/>
<circle cx="326.60" cy="326.70" r="3.8" fill="#fff" stroke="#111" stroke-width="1.0"/>
<line x1="302.8" y1="388.6" x2="350.7" y2="388.6" stroke="#111" stroke-width="2.1"/>
<circle cx="404.40" cy="411.30" r="3.8" fill="#fff" stroke="#111" stroke-width="1.0"/>
<circle cx="404.40" cy="404.10" r="3.8" fill="#fff" stroke="#111" stroke-width="1.0"/>
<circle cx="404.40" cy="397.30" r="3.8" fill="#fff" stroke="#111" stroke-width="1.0"/>
<circle cx="404.40" cy="390.00" r="3.8" fill="#fff" stroke="#111" stroke-width="1.0"/>
<circle cx="400.40" cy="383.10" r="3.8" fill="#fff" stroke="#111" stroke-width="1.0"/>
<circle cx="408.40" cy="383.10" r="3.8" fill="#fff" stroke="#111" stroke-width="1.0"/>
<circle cx="404.40" cy="375.30" r="3.8" fill="#fff" stroke="#111" stroke-width="1.0"/>
<circle cx="393.07" cy="362.00" r="3.8" fill="#fff" stroke="#111" stroke-width="1.0"/>
<circle cx="400.62" cy="362.00" r="3.8" fill="#fff" stroke="#111" stroke-width="1.0"/>
<circle cx="408.17" cy="362.00" r="3.8" fill="#fff" stroke="#111" stroke-width="1.0"/>
<circle cx="415.72" cy="362.00" r="3.8" fill="#fff" stroke="#111" stroke-width="1.0"/>
<circle cx="400.40" cy="354.80" r="3.8" fill="#fff" stroke="#111" stroke-width="1.0"/>
<circle cx="408.40" cy="354.80" r="3.8" fill="#fff" stroke="#111" stroke-width="1.0"/>
<circle cx="385.52" cy="347.60" r="3.8" fill="#fff" stroke="#111" stroke-width="1.0"/>
<circle cx="393.07" cy="347.60" r="3.8" fill="#fff" stroke="#111" stroke-width="1.0"/>
<circle cx="400.62" cy="347.60" r="3.8" fill="#fff" stroke="#111" stroke-width="1.0"/>
<circle cx="408.17" cy="347.60" r="3.8" fill="#fff" stroke="#111" stroke-width="1.0"/>
<circle cx="415.72" cy="347.60" r="3.8" fill="#fff" stroke="#111" stroke-width="1.0"/>
<circle cx="423.27" cy="347.60" r="3.8" fill="#fff" stroke="#111" stroke-width="1.0"/>
<circle cx="404.40" cy="340.20" r="3.8" fill="#fff" stroke="#111" stroke-width="1.0"/>
<circle cx="404.40" cy="333.10" r="3.8" fill="#fff" stroke="#111" stroke-width="1.0"/>
<circle cx="404.40" cy="319.50" r="3.8" fill="#fff" stroke="#111" stroke-width="1.0"/>
<circle cx="404.40" cy="305.40" r="3.8" fill="#fff" stroke="#111" stroke-width="1.0"/>
<circle cx="404.40" cy="291.50" r="3.8" fill="#fff" stroke="#111" stroke-width="1.0"/>
<circle cx="404.40" cy="270.70" r="3.8" fill="#fff" stroke="#111" stroke-width="1.0"/>
<circle cx="404.40" cy="244.60" r="3.8" fill="#fff" stroke="#111" stroke-width="1.0"/>
<circle cx="404.40" cy="231.50" r="3.8" fill="#fff" stroke="#111" stroke-width="1.0"/>
<line x1="381.0" y1="349.2" x2="428.5" y2="349.2" stroke="#111" stroke-width="2.1"/>
<circle cx="467.90" cy="425.00" r="3.8" fill="#fff" stroke="#111" stroke-width="1.0"/>
<circle cx="475.45" cy="425.00" r="3.8" fill="#fff" stroke="#111" stroke-width="1.0"/>
<circle cx="483.00" cy="425.00" r="3.8" fill="#fff" stroke="#111" stroke-width="1.0"/>
<circle cx="490.55" cy="425.00" r="3.8" fill="#fff" stroke="#111" stroke-width="1.0"/>
<circle cx="498.10" cy="425.00" r="3.8" fill="#fff" stroke="#111" stroke-width="1.0"/>
<circle cx="449.02" cy="417.80" r="3.8" fill="#fff" stroke="#111" stroke-width="1.0"/>
<circle cx="456.57" cy="417.80" r="3.8" fill="#fff" stroke="#111" stroke-width="1.0"/>
<circle cx="464.12" cy="417.80" r="3.8" fill="#fff" stroke="#111" stroke-width="1.0"/>
<circle cx="471.68" cy="417.80" r="3.8" fill="#fff" stroke="#111" stroke-width="1.0"/>
<circle cx="479.23" cy="417.80" r="3.8" fill="#fff" stroke="#111" stroke-width="1.0"/>
<circle cx="486.77" cy="417.80" r="3.8" fill="#fff" stroke="#111" stroke-width="1.0"/>
<circle cx="494.32" cy="417.80" r="3.8" fill="#fff" stroke="#111" stroke-width="1.0"/>
<circle cx="501.88" cy="417.80" r="3.8" fill="#fff" stroke="#111" stroke-width="1.0"/>
<circle cx="509.43" cy="417.80" r="3.8" fill="#fff" stroke="#111" stroke-width="1.0"/>
<circle cx="516.98" cy="417.80" r="3.8" fill="#fff" stroke="#111" stroke-width="1.0"/>
<circle cx="471.68" cy="410.50" r="3.8" fill="#fff" stroke="#111" stroke-width="1.0"/>
<circle cx="479.23" cy="410.50" r="3.8" fill="#fff" stroke="#111" stroke-width="1.0"/>
<circle cx="486.77" cy="410.50" r="3.8" fill="#fff" stroke="#111" stroke-width="1.0"/>
<circle cx="494.32" cy="410.50" r="3.8" fill="#fff" stroke="#111" stroke-width="1.0"/>
<circle cx="456.57" cy="404.00" r="3.8" fill="#fff" stroke="#111" stroke-width="1.0"/>
<circle cx="464.12" cy="404.00" r="3.8" fill="#fff" stroke="#111" stroke-width="1.0"/>
<circle cx="471.68" cy="404.00" r="3.8" fill="#fff" stroke="#111" stroke-width="1.0"/>
<circle cx="479.23" cy="404.00" r="3.8" fill="#fff" stroke="#111" stroke-width="1.0"/>
<circle cx="486.77" cy="404.00" r="3.8" fill="#fff" stroke="#111" stroke-width="1.0"/>
<circle cx="494.32" cy="404.00" r="3.8" fill="#fff" stroke="#111" stroke-width="1.0"/>
<circle cx="501.88" cy="404.00" r="3.8" fill="#fff" stroke="#111" stroke-width="1.0"/>
<circle cx="509.43" cy="404.00" r="3.8" fill="#fff" stroke="#111" stroke-width="1.0"/>
<circle cx="464.12" cy="396.40" r="3.8" fill="#fff" stroke="#111" stroke-width="1.0"/>
<circle cx="471.68" cy="396.40" r="3.8" fill="#fff" stroke="#111" stroke-width="1.0"/>
<circle cx="479.23" cy="396.40" r="3.8" fill="#fff" stroke="#111" stroke-width="1.0"/>
<circle cx="486.77" cy="396.40" r="3.8" fill="#fff" stroke="#111" stroke-width="1.0"/>
<circle cx="494.32" cy="396.40" r="3.8" fill="#fff" stroke="#111" stroke-width="1.0"/>
<circle cx="501.88" cy="396.40" r="3.8" fill="#fff" stroke="#111" stroke-width="1.0"/>
<circle cx="479.05" cy="389.10" r="3.8" fill="#fff" stroke="#111" stroke-width="1.0"/>
<circle cx="486.95" cy="389.10" r="3.8" fill="#fff" stroke="#111" stroke-width="1.0"/>
<circle cx="479.05" cy="375.70" r="3.8" fill="#fff" stroke="#111" stroke-width="1.0"/>
<circle cx="486.95" cy="375.70" r="3.8" fill="#fff" stroke="#111" stroke-width="1.0"/>
<circle cx="479.05" cy="368.30" r="3.8" fill="#fff" stroke="#111" stroke-width="1.0"/>
<circle cx="486.95" cy="368.30" r="3.8" fill="#fff" stroke="#111" stroke-width="1.0"/>
<circle cx="483.00" cy="354.10" r="3.8" fill="#fff" stroke="#111" stroke-width="1.0"/>
<line x1="459.4" y1="405.3" x2="505.9" y2="405.3" stroke="#111" stroke-width="2.1"/>
<text transform="translate(337.8,233.6) scale(1,1.1)" class="lb">313.9</text>
<text transform="translate(411.6,235.0) scale(1,1.1)" class="lb">194.8</text>
<text transform="translate(416.8,248.0) scale(1,1.1)" class="lb">54.8</text>
<circle cx="132.20" cy="665.40" r="3.8" fill="#fff" stroke="#111" stroke-width="1.0"/>
<circle cx="102.00" cy="657.10" r="3.8" fill="#fff" stroke="#111" stroke-width="1.0"/>
<circle cx="109.55" cy="657.10" r="3.8" fill="#fff" stroke="#111" stroke-width="1.0"/>
<circle cx="117.10" cy="657.10" r="3.8" fill="#fff" stroke="#111" stroke-width="1.0"/>
<circle cx="124.65" cy="657.10" r="3.8" fill="#fff" stroke="#111" stroke-width="1.0"/>
<circle cx="132.20" cy="657.10" r="3.8" fill="#fff" stroke="#111" stroke-width="1.0"/>
<circle cx="139.75" cy="657.10" r="3.8" fill="#fff" stroke="#111" stroke-width="1.0"/>
<circle cx="147.30" cy="657.10" r="3.8" fill="#fff" stroke="#111" stroke-width="1.0"/>
<circle cx="154.85" cy="657.10" r="3.8" fill="#fff" stroke="#111" stroke-width="1.0"/>
<circle cx="162.40" cy="657.10" r="3.8" fill="#fff" stroke="#111" stroke-width="1.0"/>
<circle cx="64.25" cy="648.90" r="3.8" fill="#fff" stroke="#111" stroke-width="1.0"/>
<circle cx="71.80" cy="648.90" r="3.8" fill="#fff" stroke="#111" stroke-width="1.0"/>
<circle cx="79.35" cy="648.90" r="3.8" fill="#fff" stroke="#111" stroke-width="1.0"/>
<circle cx="86.90" cy="648.90" r="3.8" fill="#fff" stroke="#111" stroke-width="1.0"/>
<circle cx="94.45" cy="648.90" r="3.8" fill="#fff" stroke="#111" stroke-width="1.0"/>
<circle cx="102.00" cy="648.90" r="3.8" fill="#fff" stroke="#111" stroke-width="1.0"/>
<circle cx="109.55" cy="648.90" r="3.8" fill="#fff" stroke="#111" stroke-width="1.0"/>
<circle cx="117.10" cy="648.90" r="3.8" fill="#fff" stroke="#111" stroke-width="1.0"/>
<circle cx="124.65" cy="648.90" r="3.8" fill="#fff" stroke="#111" stroke-width="1.0"/>
<circle cx="132.20" cy="648.90" r="3.8" fill="#fff" stroke="#111" stroke-width="1.0"/>
<circle cx="139.75" cy="648.90" r="3.8" fill="#fff" stroke="#111" stroke-width="1.0"/>
<circle cx="147.30" cy="648.90" r="3.8" fill="#fff" stroke="#111" stroke-width="1.0"/>
<circle cx="154.85" cy="648.90" r="3.8" fill="#fff" stroke="#111" stroke-width="1.0"/>
<circle cx="162.40" cy="648.90" r="3.8" fill="#fff" stroke="#111" stroke-width="1.0"/>
<circle cx="169.95" cy="648.90" r="3.8" fill="#fff" stroke="#111" stroke-width="1.0"/>
<circle cx="177.50" cy="648.90" r="3.8" fill="#fff" stroke="#111" stroke-width="1.0"/>
<circle cx="185.05" cy="648.90" r="3.8" fill="#fff" stroke="#111" stroke-width="1.0"/>
<circle cx="192.60" cy="648.90" r="3.8" fill="#fff" stroke="#111" stroke-width="1.0"/>
<circle cx="200.15" cy="648.90" r="3.8" fill="#fff" stroke="#111" stroke-width="1.0"/>
<circle cx="83.12" cy="640.50" r="3.8" fill="#fff" stroke="#111" stroke-width="1.0"/>
<circle cx="90.67" cy="640.50" r="3.8" fill="#fff" stroke="#111" stroke-width="1.0"/>
<circle cx="98.22" cy="640.50" r="3.8" fill="#fff" stroke="#111" stroke-width="1.0"/>
<circle cx="105.77" cy="640.50" r="3.8" fill="#fff" stroke="#111" stroke-width="1.0"/>
<circle cx="113.32" cy="640.50" r="3.8" fill="#fff" stroke="#111" stroke-width="1.0"/>
<circle cx="120.87" cy="640.50" r="3.8" fill="#fff" stroke="#111" stroke-width="1.0"/>
<circle cx="128.42" cy="640.50" r="3.8" fill="#fff" stroke="#111" stroke-width="1.0"/>
<circle cx="135.97" cy="640.50" r="3.8" fill="#fff" stroke="#111" stroke-width="1.0"/>
<circle cx="143.52" cy="640.50" r="3.8" fill="#fff" stroke="#111" stroke-width="1.0"/>
<circle cx="151.07" cy="640.50" r="3.8" fill="#fff" stroke="#111" stroke-width="1.0"/>
<circle cx="158.62" cy="640.50" r="3.8" fill="#fff" stroke="#111" stroke-width="1.0"/>
<circle cx="166.17" cy="640.50" r="3.8" fill="#fff" stroke="#111" stroke-width="1.0"/>
<circle cx="173.72" cy="640.50" r="3.8" fill="#fff" stroke="#111" stroke-width="1.0"/>
<circle cx="181.27" cy="640.50" r="3.8" fill="#fff" stroke="#111" stroke-width="1.0"/>
<circle cx="98.22" cy="632.90" r="3.8" fill="#fff" stroke="#111" stroke-width="1.0"/>
<circle cx="105.77" cy="632.90" r="3.8" fill="#fff" stroke="#111" stroke-width="1.0"/>
<circle cx="113.32" cy="632.90" r="3.8" fill="#fff" stroke="#111" stroke-width="1.0"/>
<circle cx="120.87" cy="632.90" r="3.8" fill="#fff" stroke="#111" stroke-width="1.0"/>
<circle cx="128.42" cy="632.90" r="3.8" fill="#fff" stroke="#111" stroke-width="1.0"/>
<circle cx="135.97" cy="632.90" r="3.8" fill="#fff" stroke="#111" stroke-width="1.0"/>
<circle cx="143.52" cy="632.90" r="3.8" fill="#fff" stroke="#111" stroke-width="1.0"/>
<circle cx="151.07" cy="632.90" r="3.8" fill="#fff" stroke="#111" stroke-width="1.0"/>
<circle cx="158.62" cy="632.90" r="3.8" fill="#fff" stroke="#111" stroke-width="1.0"/>
<circle cx="166.17" cy="632.90" r="3.8" fill="#fff" stroke="#111" stroke-width="1.0"/>
<circle cx="117.10" cy="625.25" r="3.8" fill="#fff" stroke="#111" stroke-width="1.0"/>
<circle cx="124.65" cy="625.25" r="3.8" fill="#fff" stroke="#111" stroke-width="1.0"/>
<circle cx="132.20" cy="625.25" r="3.8" fill="#fff" stroke="#111" stroke-width="1.0"/>
<circle cx="139.75" cy="625.25" r="3.8" fill="#fff" stroke="#111" stroke-width="1.0"/>
<circle cx="147.30" cy="625.25" r="3.8" fill="#fff" stroke="#111" stroke-width="1.0"/>
<circle cx="124.65" cy="617.75" r="3.8" fill="#fff" stroke="#111" stroke-width="1.0"/>
<circle cx="132.20" cy="617.75" r="3.8" fill="#fff" stroke="#111" stroke-width="1.0"/>
<circle cx="139.75" cy="617.75" r="3.8" fill="#fff" stroke="#111" stroke-width="1.0"/>
<circle cx="128.42" cy="609.40" r="3.8" fill="#fff" stroke="#111" stroke-width="1.0"/>
<circle cx="135.97" cy="609.40" r="3.8" fill="#fff" stroke="#111" stroke-width="1.0"/>
<circle cx="132.20" cy="586.00" r="3.8" fill="#fff" stroke="#111" stroke-width="1.0"/>
<line x1="62.0" y1="644.5" x2="204.0" y2="644.5" stroke="#111" stroke-width="2.1"/>
<circle cx="249.20" cy="673.20" r="3.8" fill="#fff" stroke="#111" stroke-width="1.0"/>
<circle cx="249.20" cy="665.50" r="3.8" fill="#fff" stroke="#111" stroke-width="1.0"/>
<circle cx="241.65" cy="657.30" r="3.8" fill="#fff" stroke="#111" stroke-width="1.0"/>
<circle cx="249.20" cy="657.30" r="3.8" fill="#fff" stroke="#111" stroke-width="1.0"/>
<circle cx="256.75" cy="657.30" r="3.8" fill="#fff" stroke="#111" stroke-width="1.0"/>
<circle cx="230.32" cy="649.20" r="3.8" fill="#fff" stroke="#111" stroke-width="1.0"/>
<circle cx="237.88" cy="649.20" r="3.8" fill="#fff" stroke="#111" stroke-width="1.0"/>
<circle cx="245.42" cy="649.20" r="3.8" fill="#fff" stroke="#111" stroke-width="1.0"/>
<circle cx="252.97" cy="649.20" r="3.8" fill="#fff" stroke="#111" stroke-width="1.0"/>
<circle cx="260.52" cy="649.20" r="3.8" fill="#fff" stroke="#111" stroke-width="1.0"/>
<circle cx="268.07" cy="649.20" r="3.8" fill="#fff" stroke="#111" stroke-width="1.0"/>
<circle cx="219.00" cy="641.20" r="3.8" fill="#fff" stroke="#111" stroke-width="1.0"/>
<circle cx="226.55" cy="641.20" r="3.8" fill="#fff" stroke="#111" stroke-width="1.0"/>
<circle cx="234.10" cy="641.20" r="3.8" fill="#fff" stroke="#111" stroke-width="1.0"/>
<circle cx="241.65" cy="641.20" r="3.8" fill="#fff" stroke="#111" stroke-width="1.0"/>
<circle cx="249.20" cy="641.20" r="3.8" fill="#fff" stroke="#111" stroke-width="1.0"/>
<circle cx="256.75" cy="641.20" r="3.8" fill="#fff" stroke="#111" stroke-width="1.0"/>
<circle cx="264.30" cy="641.20" r="3.8" fill="#fff" stroke="#111" stroke-width="1.0"/>
<circle cx="271.85" cy="641.20" r="3.8" fill="#fff" stroke="#111" stroke-width="1.0"/>
<circle cx="279.40" cy="641.20" r="3.8" fill="#fff" stroke="#111" stroke-width="1.0"/>
<circle cx="226.55" cy="632.80" r="3.8" fill="#fff" stroke="#111" stroke-width="1.0"/>
<circle cx="234.10" cy="632.80" r="3.8" fill="#fff" stroke="#111" stroke-width="1.0"/>
<circle cx="241.65" cy="632.80" r="3.8" fill="#fff" stroke="#111" stroke-width="1.0"/>
<circle cx="249.20" cy="632.80" r="3.8" fill="#fff" stroke="#111" stroke-width="1.0"/>
<circle cx="256.75" cy="632.80" r="3.8" fill="#fff" stroke="#111" stroke-width="1.0"/>
<circle cx="264.30" cy="632.80" r="3.8" fill="#fff" stroke="#111" stroke-width="1.0"/>
<circle cx="271.85" cy="632.80" r="3.8" fill="#fff" stroke="#111" stroke-width="1.0"/>
<circle cx="230.32" cy="625.40" r="3.8" fill="#fff" stroke="#111" stroke-width="1.0"/>
<circle cx="237.88" cy="625.40" r="3.8" fill="#fff" stroke="#111" stroke-width="1.0"/>
<circle cx="245.42" cy="625.40" r="3.8" fill="#fff" stroke="#111" stroke-width="1.0"/>
<circle cx="252.97" cy="625.40" r="3.8" fill="#fff" stroke="#111" stroke-width="1.0"/>
<circle cx="260.52" cy="625.40" r="3.8" fill="#fff" stroke="#111" stroke-width="1.0"/>
<circle cx="268.07" cy="625.40" r="3.8" fill="#fff" stroke="#111" stroke-width="1.0"/>
<circle cx="234.10" cy="618.20" r="3.8" fill="#fff" stroke="#111" stroke-width="1.0"/>
<circle cx="241.65" cy="618.20" r="3.8" fill="#fff" stroke="#111" stroke-width="1.0"/>
<circle cx="249.20" cy="618.20" r="3.8" fill="#fff" stroke="#111" stroke-width="1.0"/>
<circle cx="256.75" cy="618.20" r="3.8" fill="#fff" stroke="#111" stroke-width="1.0"/>
<circle cx="264.30" cy="618.20" r="3.8" fill="#fff" stroke="#111" stroke-width="1.0"/>
<circle cx="245.42" cy="609.50" r="3.8" fill="#fff" stroke="#111" stroke-width="1.0"/>
<circle cx="252.97" cy="609.50" r="3.8" fill="#fff" stroke="#111" stroke-width="1.0"/>
<line x1="223.8" y1="636.9" x2="276.2" y2="636.9" stroke="#111" stroke-width="2.1"/>
<circle cx="252.90" cy="634.00" r="4.30" fill="#111"/>
<circle cx="249.50" cy="639.50" r="4.30" fill="#111"/>
<circle cx="249.50" cy="644.00" r="4.30" fill="#111"/>
<circle cx="250.00" cy="649.40" r="4.30" fill="#111"/>
<circle cx="262.80" cy="649.40" r="4.30" fill="#111"/>
<circle cx="252.60" cy="657.50" r="4.30" fill="#111"/>
<circle cx="327.00" cy="554.50" r="4.30" fill="#111"/>
<circle cx="327.00" cy="570.00" r="4.30" fill="#111"/>
<circle cx="319.30" cy="578.30" r="4.30" fill="#111"/>
<circle cx="327.00" cy="578.30" r="4.30" fill="#111"/>
<circle cx="334.60" cy="578.30" r="4.30" fill="#111"/>
<circle cx="322.90" cy="633.10" r="4.30" fill="#111"/>
<circle cx="331.20" cy="633.10" r="4.30" fill="#111"/>
<circle cx="323.20" cy="641.40" r="4.30" fill="#111"/>
<circle cx="331.40" cy="641.40" r="4.30" fill="#111"/>
<circle cx="327.80" cy="468.50" r="3.8" fill="#fff" stroke="#111" stroke-width="1.0"/>
<circle cx="327.00" cy="633.10" r="3.8" fill="#fff" stroke="#111" stroke-width="1.0"/>
<circle cx="315.68" cy="625.30" r="3.8" fill="#fff" stroke="#111" stroke-width="1.0"/>
<circle cx="323.23" cy="625.30" r="3.8" fill="#fff" stroke="#111" stroke-width="1.0"/>
<circle cx="330.77" cy="625.30" r="3.8" fill="#fff" stroke="#111" stroke-width="1.0"/>
<circle cx="338.32" cy="625.30" r="3.8" fill="#fff" stroke="#111" stroke-width="1.0"/>
<circle cx="323.10" cy="617.90" r="3.8" fill="#fff" stroke="#111" stroke-width="1.0"/>
<circle cx="330.90" cy="617.90" r="3.8" fill="#fff" stroke="#111" stroke-width="1.0"/>
<circle cx="327.00" cy="609.70" r="3.8" fill="#fff" stroke="#111" stroke-width="1.0"/>
<circle cx="327.00" cy="601.90" r="3.8" fill="#fff" stroke="#111" stroke-width="1.0"/>
<circle cx="327.00" cy="586.10" r="3.8" fill="#fff" stroke="#111" stroke-width="1.0"/>
<circle cx="327.00" cy="538.80" r="3.8" fill="#fff" stroke="#111" stroke-width="1.0"/>
<line x1="303.5" y1="616.2" x2="351.2" y2="616.2" stroke="#111" stroke-width="2.1"/>
<circle cx="405.20" cy="633.60" r="3.8" fill="#fff" stroke="#111" stroke-width="1.0"/>
<circle cx="405.20" cy="625.80" r="3.8" fill="#fff" stroke="#111" stroke-width="1.0"/>
<circle cx="401.05" cy="609.80" r="3.8" fill="#fff" stroke="#111" stroke-width="1.0"/>
<circle cx="409.35" cy="609.80" r="3.8" fill="#fff" stroke="#111" stroke-width="1.0"/>
<circle cx="393.88" cy="602.10" r="3.8" fill="#fff" stroke="#111" stroke-width="1.0"/>
<circle cx="401.43" cy="602.10" r="3.8" fill="#fff" stroke="#111" stroke-width="1.0"/>
<circle cx="408.97" cy="602.10" r="3.8" fill="#fff" stroke="#111" stroke-width="1.0"/>
<circle cx="416.52" cy="602.10" r="3.8" fill="#fff" stroke="#111" stroke-width="1.0"/>
<circle cx="393.88" cy="594.40" r="3.8" fill="#fff" stroke="#111" stroke-width="1.0"/>
<circle cx="401.43" cy="594.40" r="3.8" fill="#fff" stroke="#111" stroke-width="1.0"/>
<circle cx="408.97" cy="594.40" r="3.8" fill="#fff" stroke="#111" stroke-width="1.0"/>
<circle cx="416.52" cy="594.40" r="3.8" fill="#fff" stroke="#111" stroke-width="1.0"/>
<circle cx="393.88" cy="586.00" r="3.8" fill="#fff" stroke="#111" stroke-width="1.0"/>
<circle cx="401.43" cy="586.00" r="3.8" fill="#fff" stroke="#111" stroke-width="1.0"/>
<circle cx="408.97" cy="586.00" r="3.8" fill="#fff" stroke="#111" stroke-width="1.0"/>
<circle cx="416.52" cy="586.00" r="3.8" fill="#fff" stroke="#111" stroke-width="1.0"/>
<circle cx="405.20" cy="578.30" r="3.8" fill="#fff" stroke="#111" stroke-width="1.0"/>
<circle cx="401.05" cy="570.30" r="3.8" fill="#fff" stroke="#111" stroke-width="1.0"/>
<circle cx="409.35" cy="570.30" r="3.8" fill="#fff" stroke="#111" stroke-width="1.0"/>
<circle cx="401.05" cy="562.50" r="3.8" fill="#fff" stroke="#111" stroke-width="1.0"/>
<circle cx="409.35" cy="562.50" r="3.8" fill="#fff" stroke="#111" stroke-width="1.0"/>
<circle cx="401.05" cy="546.60" r="3.8" fill="#fff" stroke="#111" stroke-width="1.0"/>
<circle cx="409.35" cy="546.60" r="3.8" fill="#fff" stroke="#111" stroke-width="1.0"/>
<circle cx="405.20" cy="538.50" r="3.8" fill="#fff" stroke="#111" stroke-width="1.0"/>
<circle cx="405.20" cy="507.30" r="3.8" fill="#fff" stroke="#111" stroke-width="1.0"/>
<circle cx="405.20" cy="491.60" r="3.8" fill="#fff" stroke="#111" stroke-width="1.0"/>
<circle cx="405.20" cy="469.90" r="3.8" fill="#fff" stroke="#111" stroke-width="1.0"/>
<line x1="381.3" y1="586.2" x2="429.2" y2="586.2" stroke="#111" stroke-width="2.1"/>
<circle cx="468.00" cy="657.20" r="3.8" fill="#fff" stroke="#111" stroke-width="1.0"/>
<circle cx="475.55" cy="657.20" r="3.8" fill="#fff" stroke="#111" stroke-width="1.0"/>
<circle cx="483.10" cy="657.20" r="3.8" fill="#fff" stroke="#111" stroke-width="1.0"/>
<circle cx="490.65" cy="657.20" r="3.8" fill="#fff" stroke="#111" stroke-width="1.0"/>
<circle cx="498.20" cy="657.20" r="3.8" fill="#fff" stroke="#111" stroke-width="1.0"/>
<circle cx="460.45" cy="649.20" r="3.8" fill="#fff" stroke="#111" stroke-width="1.0"/>
<circle cx="468.00" cy="649.20" r="3.8" fill="#fff" stroke="#111" stroke-width="1.0"/>
<circle cx="475.55" cy="649.20" r="3.8" fill="#fff" stroke="#111" stroke-width="1.0"/>
<circle cx="483.10" cy="649.20" r="3.8" fill="#fff" stroke="#111" stroke-width="1.0"/>
<circle cx="490.65" cy="649.20" r="3.8" fill="#fff" stroke="#111" stroke-width="1.0"/>
<circle cx="498.20" cy="649.20" r="3.8" fill="#fff" stroke="#111" stroke-width="1.0"/>
<circle cx="505.75" cy="649.20" r="3.8" fill="#fff" stroke="#111" stroke-width="1.0"/>
<circle cx="468.00" cy="641.30" r="3.8" fill="#fff" stroke="#111" stroke-width="1.0"/>
<circle cx="475.55" cy="641.30" r="3.8" fill="#fff" stroke="#111" stroke-width="1.0"/>
<circle cx="483.10" cy="641.30" r="3.8" fill="#fff" stroke="#111" stroke-width="1.0"/>
<circle cx="490.65" cy="641.30" r="3.8" fill="#fff" stroke="#111" stroke-width="1.0"/>
<circle cx="498.20" cy="641.30" r="3.8" fill="#fff" stroke="#111" stroke-width="1.0"/>
<circle cx="483.10" cy="633.00" r="3.8" fill="#fff" stroke="#111" stroke-width="1.0"/>
<circle cx="479.10" cy="626.30" r="3.8" fill="#fff" stroke="#111" stroke-width="1.0"/>
<circle cx="487.10" cy="626.30" r="3.8" fill="#fff" stroke="#111" stroke-width="1.0"/>
<circle cx="468.00" cy="617.40" r="3.8" fill="#fff" stroke="#111" stroke-width="1.0"/>
<circle cx="475.55" cy="617.40" r="3.8" fill="#fff" stroke="#111" stroke-width="1.0"/>
<circle cx="483.10" cy="617.40" r="3.8" fill="#fff" stroke="#111" stroke-width="1.0"/>
<circle cx="490.65" cy="617.40" r="3.8" fill="#fff" stroke="#111" stroke-width="1.0"/>
<circle cx="498.20" cy="617.40" r="3.8" fill="#fff" stroke="#111" stroke-width="1.0"/>
<circle cx="471.78" cy="609.50" r="3.8" fill="#fff" stroke="#111" stroke-width="1.0"/>
<circle cx="479.33" cy="609.50" r="3.8" fill="#fff" stroke="#111" stroke-width="1.0"/>
<circle cx="486.88" cy="609.50" r="3.8" fill="#fff" stroke="#111" stroke-width="1.0"/>
<circle cx="494.43" cy="609.50" r="3.8" fill="#fff" stroke="#111" stroke-width="1.0"/>
<circle cx="475.55" cy="601.90" r="3.8" fill="#fff" stroke="#111" stroke-width="1.0"/>
<circle cx="483.10" cy="601.90" r="3.8" fill="#fff" stroke="#111" stroke-width="1.0"/>
<circle cx="490.65" cy="601.90" r="3.8" fill="#fff" stroke="#111" stroke-width="1.0"/>
<circle cx="479.10" cy="594.30" r="3.8" fill="#fff" stroke="#111" stroke-width="1.0"/>
<circle cx="487.10" cy="594.30" r="3.8" fill="#fff" stroke="#111" stroke-width="1.0"/>
<circle cx="483.10" cy="586.00" r="3.8" fill="#fff" stroke="#111" stroke-width="1.0"/>
<circle cx="479.10" cy="570.50" r="3.8" fill="#fff" stroke="#111" stroke-width="1.0"/>
<circle cx="487.10" cy="570.50" r="3.8" fill="#fff" stroke="#111" stroke-width="1.0"/>
<circle cx="479.10" cy="562.60" r="3.8" fill="#fff" stroke="#111" stroke-width="1.0"/>
<circle cx="487.10" cy="562.60" r="3.8" fill="#fff" stroke="#111" stroke-width="1.0"/>
<circle cx="483.10" cy="530.90" r="3.8" fill="#fff" stroke="#111" stroke-width="1.0"/>
<line x1="459.7" y1="623.1" x2="507.4" y2="623.1" stroke="#111" stroke-width="2.1"/>
<text transform="translate(339.6,472.5) scale(1,1.1)" class="lb">170.7</text>
<text transform="translate(414.2,473.6) scale(1,1.1)" class="lb">122.5</text>
<text transform="translate(94.8,702.8) scale(1,1.1)" class="xl">Healthy Adults</text>
<text transform="translate(230.8,702.8) scale(1,1.1)" class="xl">MGUS</text>
<text transform="translate(303.0,702.8) scale(1,1.1)" class="xl">MM: I+II</text>
<text transform="translate(385.2,702.8) scale(1,1.1)" class="xl">MM: III</text>
<text transform="translate(450.8,702.8) scale(1,1.1)" class="xl">Osteoporosis</text>
</g>
</svg>
</body></html>
